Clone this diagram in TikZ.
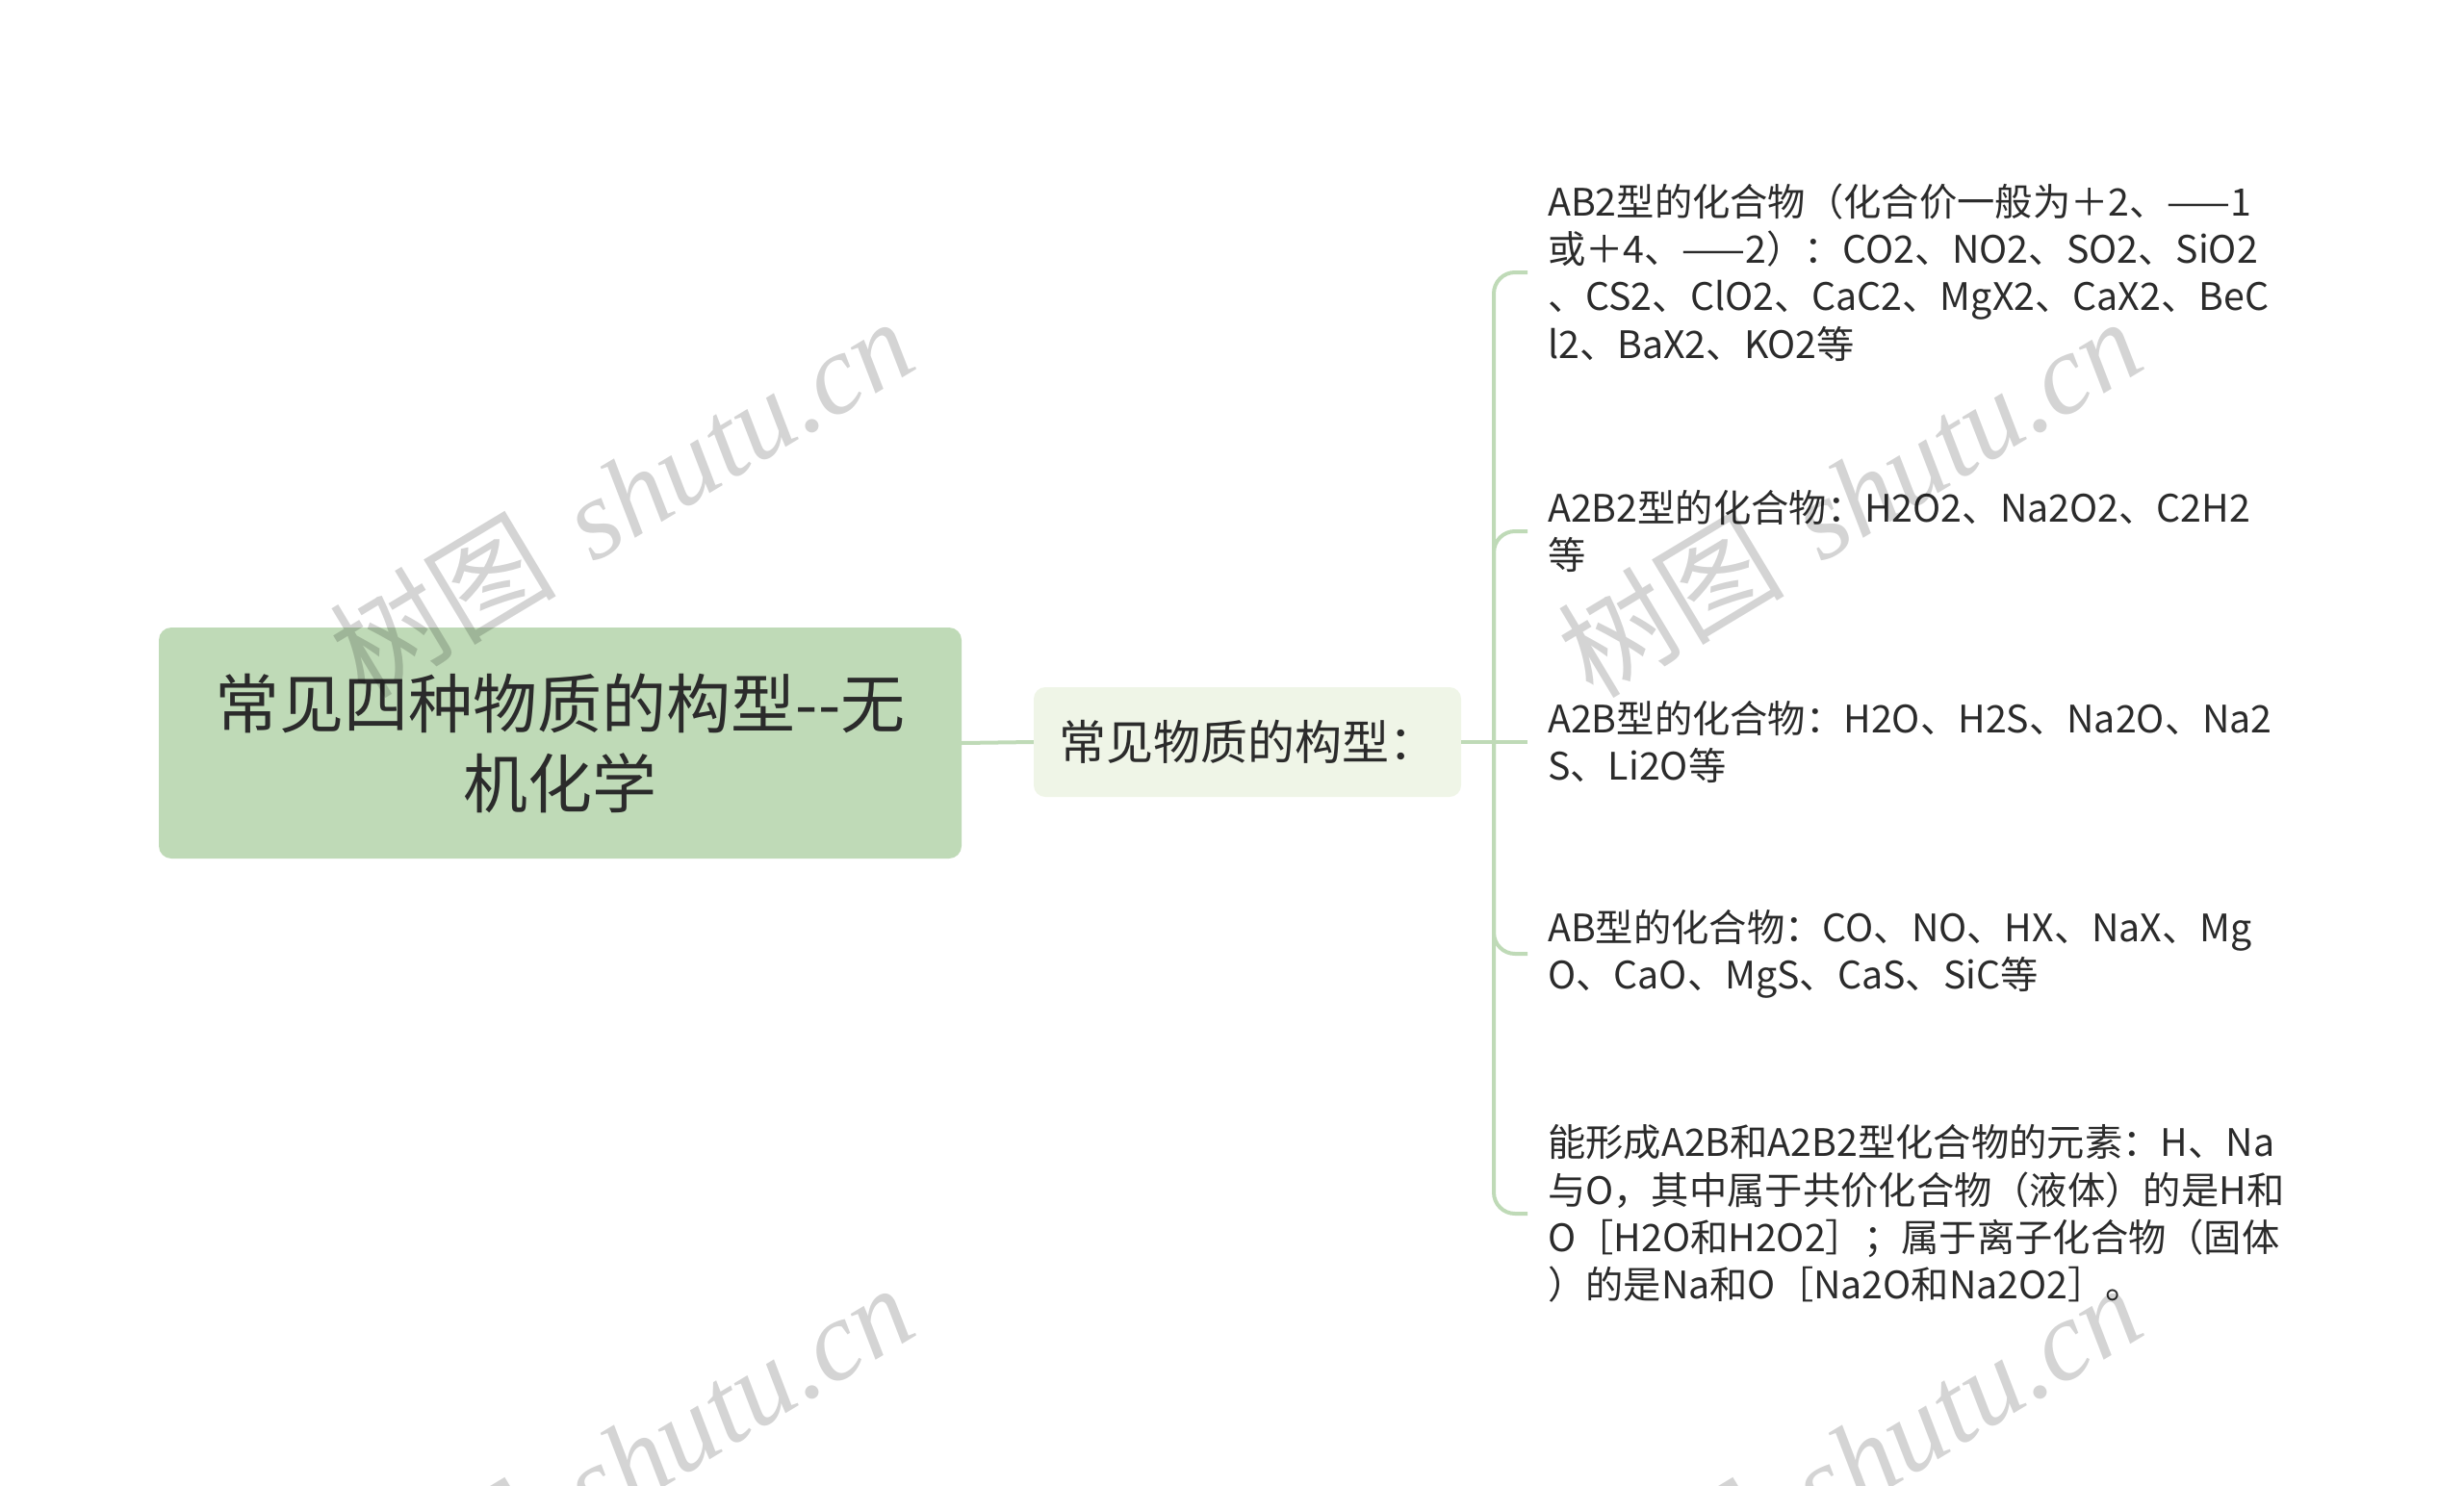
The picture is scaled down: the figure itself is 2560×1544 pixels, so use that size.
\documentclass[tikz,border=0pt]{standalone}
\usepackage{fontspec}
\setmainfont{Noto Sans CJK SC}
\newfontfamily\wmserif{Liberation Serif}
\newfontfamily\wmcjk{Noto Sans CJK SC}
\definecolor{rootfill}{HTML}{BFDAB7}
\definecolor{midfill}{HTML}{EFF5E7}
\definecolor{linec}{HTML}{BFDAB7}
\definecolor{txt}{HTML}{2B2B2B}
\tikzset{
  rootbox/.style={rectangle, rounded corners=13pt, fill=rootfill, minimum width=834pt, minimum height=240pt, align=center, text=txt, inner sep=0pt, font=\fontsize{67pt}{83pt}\selectfont},
  midbox/.style={rectangle, rounded corners=12pt, fill=midfill, minimum width=444pt, minimum height=114pt, align=center, text=txt, inner sep=0pt, font=\fontsize{49pt}{56pt}\selectfont},
  leafbox/.style={anchor=west, align=left, text=txt, inner xsep=21pt, inner ysep=0pt, font=\fontsize{39.3pt}{49.3pt}\selectfont},
  conn/.style={draw=linec, line width=4pt},
  wmark/.style={text=black, text opacity=0.17, rotate=31, inner sep=0pt, font=\fontsize{118pt}{130pt}\selectfont}
}
\newcommand{\wmtext}{{\wmcjk 树图}\hspace{0.35em}{\wmserif\itshape shutu.cn}}
\begin{document}
\begin{tikzpicture}[x=1pt,y=-1pt]
\useasboundingbox (0,0) rectangle (2560,1544);
\node[rootbox] (root) at (582,772) {常见四种物质的构型-\kern0pt-无\\机化学};
\node[midbox] (mid) at (1296,771) {常见物质的构型：};
\coordinate (hub) at (1552,771);
\node[leafbox] (l1) at (1587,283) {AB2型的化合物（化合价一般为＋2、——1\\或＋4、——2）：CO2、NO2、SO2、SiO2\\、CS2、ClO2、CaC2、MgX2、CaX2、BeC\\l2、BaX2、KO2等};
\node[leafbox] (l2) at (1587,552) {A2B2型的化合物：H2O2、Na2O2、C2H2\\等};
\node[leafbox] (l3) at (1587,771) {A2B型的化合物：H2O、H2S、Na2O、Na2\\S、Li2O等};
\node[leafbox] (l4) at (1587,991) {AB型的化合物：CO、NO、HX、NaX、Mg\\O、CaO、MgS、CaS、SiC等};
\node[leafbox] (l5) at (1587,1261) {能形成A2B和A2B2型化合物的元素：H、Na\\与O，其中属于共价化合物（液体）的是H和\\O［H2O和H2O2］；属于离子化合物（固体\\）的是Na和O［Na2O和Na2O2］。};
\draw[conn] (root.east) -- (mid.west);
\draw[conn] (mid.east) -- (hub);
\draw[conn, rounded corners=22pt] (hub) |- (l1.west);
\draw[conn, rounded corners=22pt] (hub) |- (l2.west);
\draw[conn] (hub) -- (l3.west);
\draw[conn, rounded corners=22pt] (hub) |- (l4.west);
\draw[conn, rounded corners=22pt] (hub) |- (l5.west);
\node[wmark] (wm1) at (645,516) {\wmtext};
\node[wmark] (wm2) at (1921,516) {\wmtext};
\node[wmark] (wm3) at (645,1520) {\wmtext};
\node[wmark] (wm4) at (1921,1520) {\wmtext};
\end{tikzpicture}
\end{document}
